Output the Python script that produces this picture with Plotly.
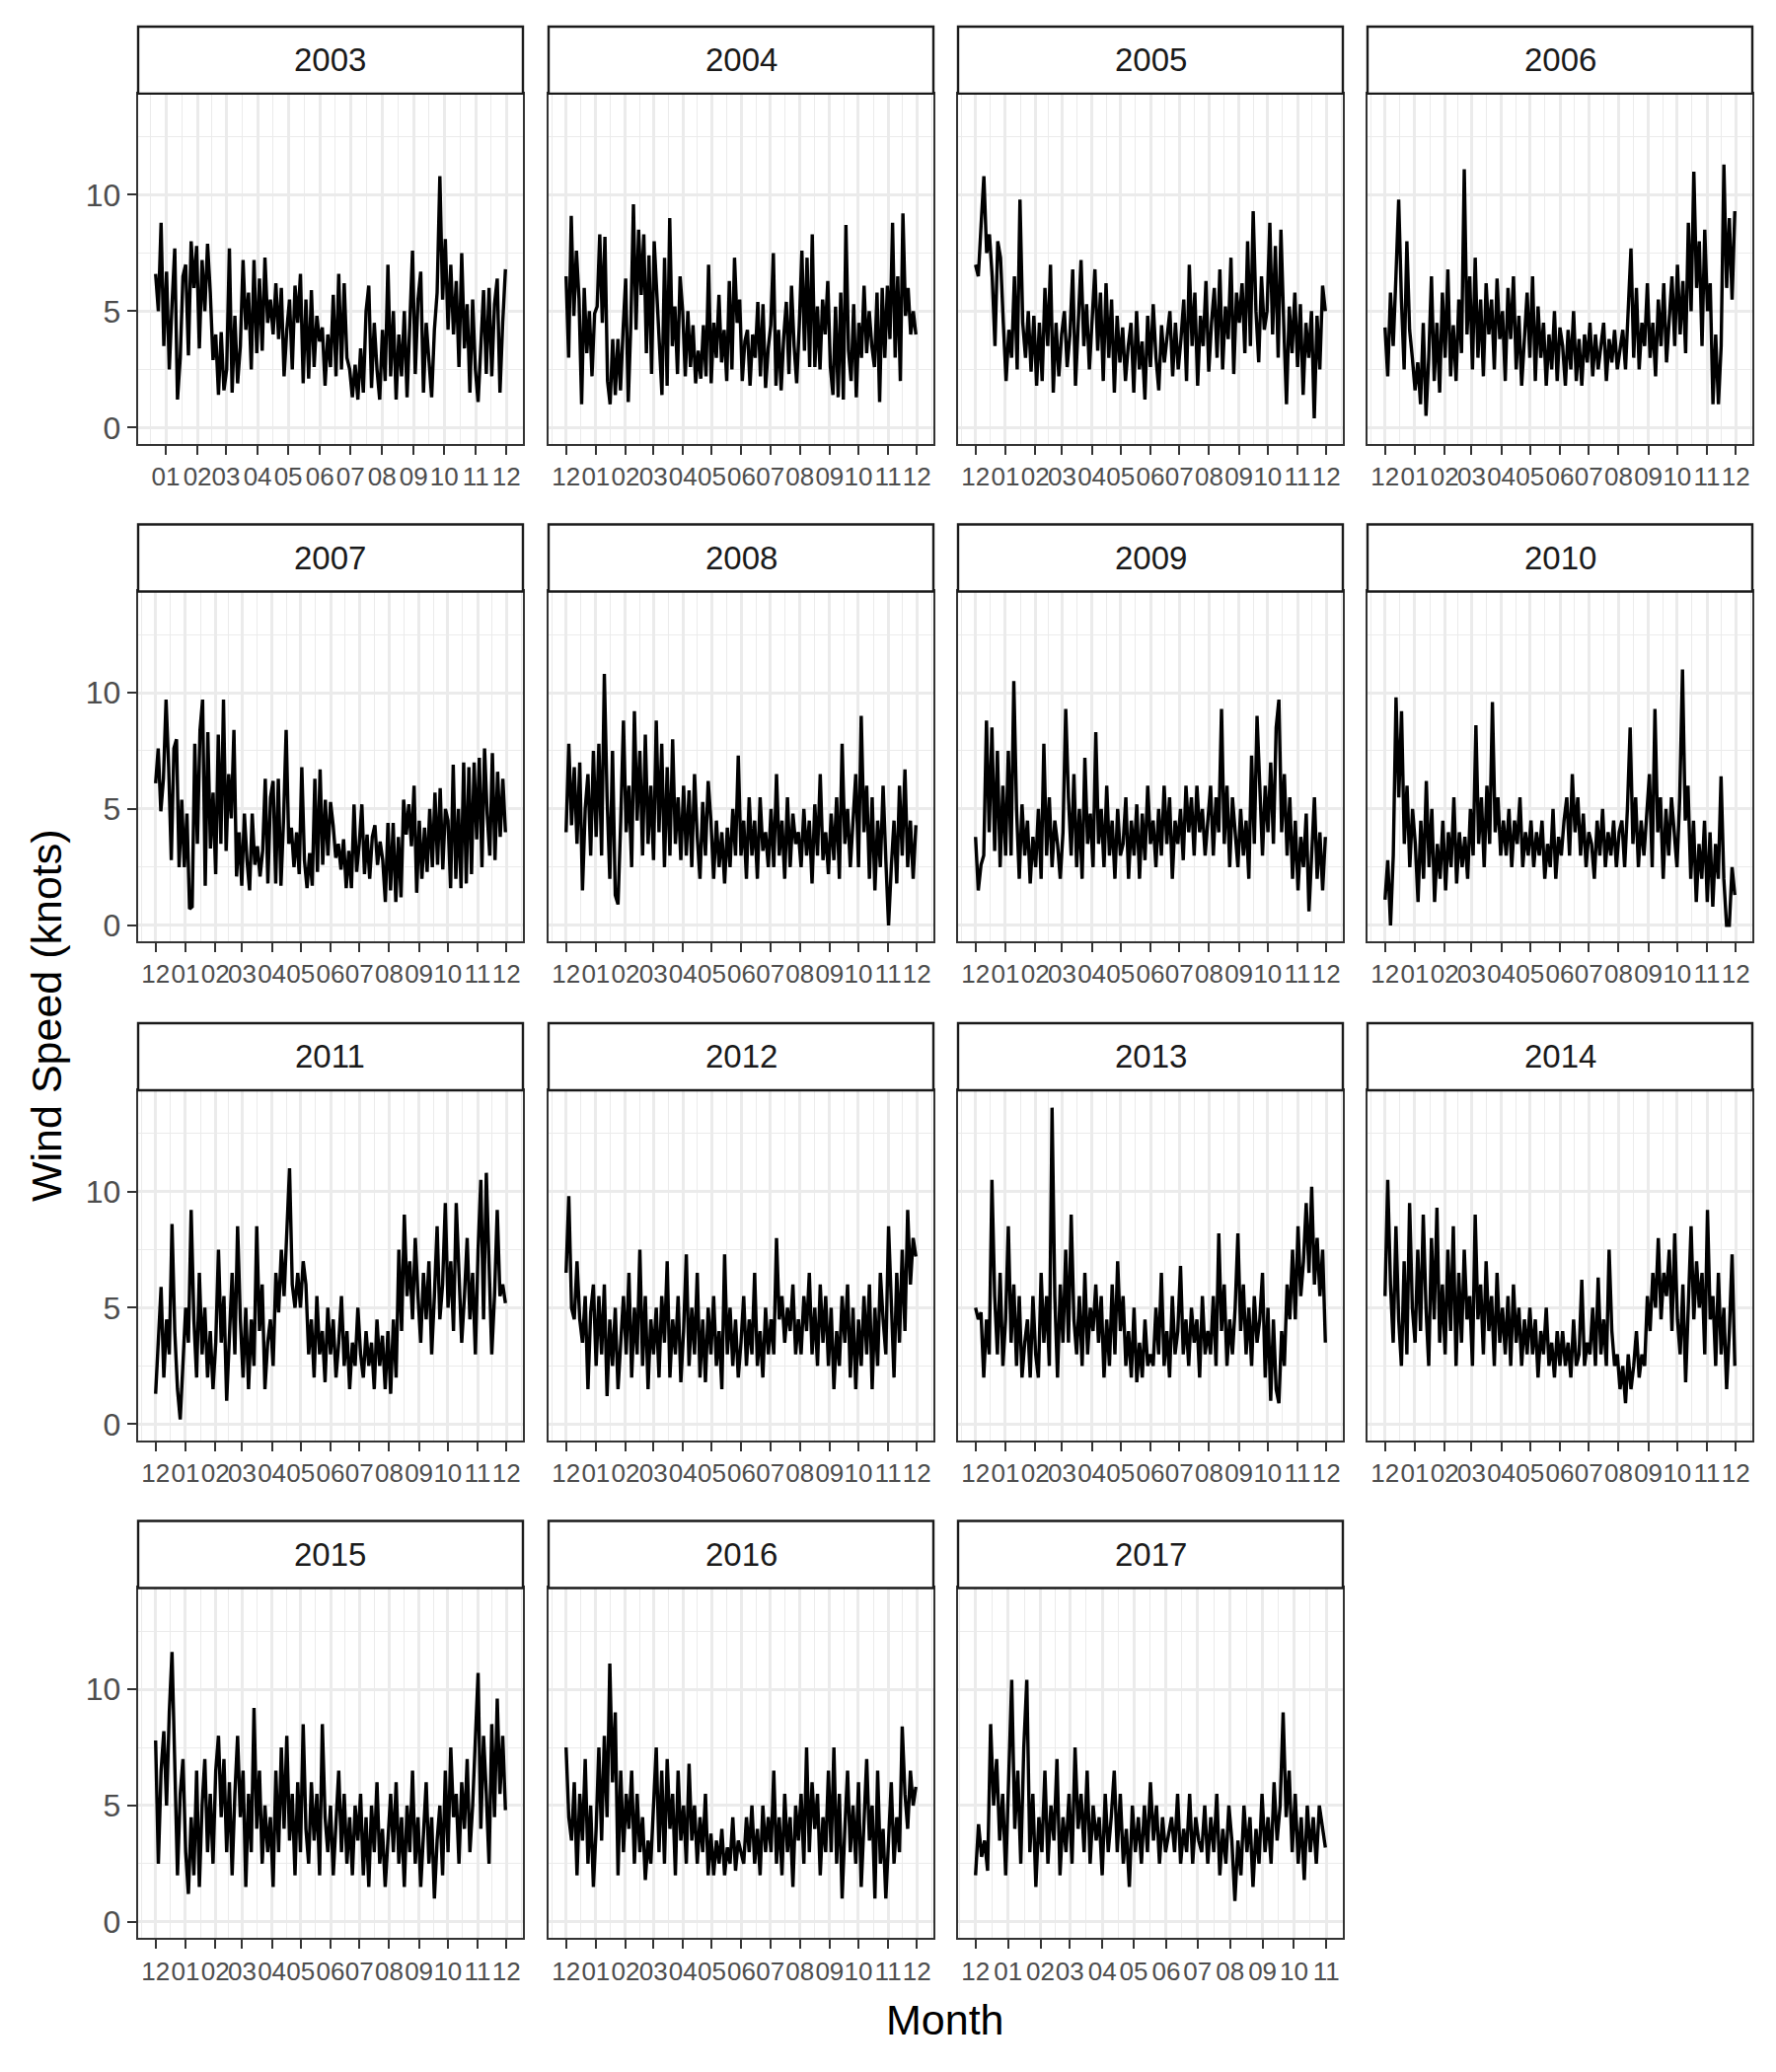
import pandas as pd
import plotly.graph_objects as go

# daily-ish wind speed (knots), Dec -> Nov per panel
years = [2003, 2004, 2005, 2006, 2007, 2008, 2009, 2010,
         2011, 2012, 2013, 2014, 2015, 2016, 2017]

first_day = {2003: "2002-12-22"}
last_day = {2017: "2017-10-31"}

ws_2003 = [6.6, 5.0, 8.8, 3.5,
           6.7, 2.5, 5.3, 7.7, 1.2, 3.0, 6.5, 7.0, 3.1, 8.0, 6.0,
           7.8, 3.4, 7.2, 5.0, 7.9, 5.8, 2.9, 4.0, 1.4, 4.1, 1.6,
           2.5, 7.7, 1.5, 4.8, 1.9, 3.5, 7.2, 4.2, 5.8, 2.5, 7.2,
           3.2, 6.4, 3.3, 7.3, 4.5, 5.5, 4.0, 6.2, 3.8, 6.0, 2.2,
           4.2, 5.5, 2.5, 6.1, 4.5, 6.6, 1.9, 5.5, 2.1, 5.9, 2.6,
           4.8, 3.7, 4.3, 1.8, 4.0, 2.6, 5.7, 2.2, 6.6, 2.5, 6.2, 3.0,
           2.5, 1.3, 2.7, 1.2, 3.4, 1.5, 5.0, 6.1, 1.7, 4.5, 2.5,
           1.2, 4.2, 2.0, 7.0, 2.2, 5.0, 1.2, 4.0, 2.2, 5.0, 1.3,
           4.5, 7.6, 2.3, 5.5, 6.7, 1.5, 4.5, 3.0, 1.3, 4.2, 5.8,
           10.8, 5.5, 8.1, 4.2, 7.0, 4.0, 6.3, 2.6, 7.5, 3.4, 5.3, 1.5,
           5.5, 2.5, 1.1, 3.8, 5.9, 2.3, 6.0, 2.2, 5.3, 6.4, 1.5, 4.5, 6.8]

ws_2004 = [6.5, 3.0, 9.1, 4.8, 7.6, 5.5, 1.0, 6.0, 3.2, 5.0, 2.2, 4.9,
           5.2, 8.3, 4.5, 8.2, 2.0, 1.0, 3.8, 1.4, 3.8, 1.6, 4.2,
           6.4, 1.1, 4.5, 9.6, 4.2, 8.5, 5.7, 8.3, 3.2, 7.4, 2.3,
           8.0, 5.7, 3.5, 1.4, 7.3, 1.8, 9.0, 3.5, 5.2, 2.3, 6.5,
           5.0, 2.2, 5.0, 2.6, 4.4, 1.9, 3.3, 2.1, 4.4, 2.2, 7.0,
           1.9, 4.5, 3.0, 5.7, 2.8, 4.2, 2.0, 6.3, 2.5, 7.3, 4.5,
           5.5, 2.0, 3.7, 4.2, 1.8, 4.0, 3.0, 5.4, 2.2, 5.3, 1.7,
           3.4, 4.4, 7.5, 1.8, 4.2, 1.6, 3.9, 5.4, 2.3, 6.1, 3.5,
           1.9, 4.4, 7.6, 3.3, 7.3, 2.6, 8.3, 2.6, 5.2, 2.5, 5.5,
           4.0, 6.3, 2.6, 1.4, 5.2, 1.3, 5.8, 1.2, 8.7, 3.3, 2.0,
           5.3, 1.3, 4.5, 3.0, 6.1, 3.2, 5.0, 3.5, 2.6, 5.8, 1.1,
           6.0, 3.0, 6.1, 3.8, 8.8, 3.0, 6.5, 2.0, 9.2, 4.8, 6.0, 4.0, 5.0, 4.0]

ws_2005 = [7.0, 6.5, 8.7, 10.8, 7.5, 8.3, 6.5, 3.5, 8.0, 7.3, 4.5, 2.0,
           4.2, 3.0, 6.5, 2.5, 9.8, 4.5, 3.0, 5.0, 2.4, 4.8, 1.8,
           4.5, 2.0, 6.0, 3.5, 7.0, 1.5, 4.5, 2.2, 4.0, 5.0,
           2.6, 4.0, 6.8, 1.8, 4.8, 7.2, 3.5, 5.3, 2.5, 4.5, 6.8,
           3.3, 5.8, 2.0, 6.2, 3.0, 5.5, 1.5, 4.8, 2.8, 4.3,
           2.0, 3.5, 4.5, 1.5, 5.0, 2.5, 3.7, 1.2, 4.8, 2.6, 5.3,
           3.0, 1.6, 4.4, 2.8, 4.0, 5.0, 2.2, 4.5, 2.5, 3.8,
           5.5, 2.0, 7.0, 3.5, 5.8, 1.8, 4.8, 3.5, 6.3, 2.4, 4.5,
           6.0, 3.0, 6.8, 2.5, 5.2, 3.8, 7.3, 2.3, 5.8, 4.5,
           6.2, 3.2, 8.0, 3.5, 9.3, 5.0, 2.8, 6.5, 4.2, 5.0,
           8.8, 4.0, 7.8, 3.0, 8.5, 4.5, 1.0, 5.2, 3.2, 5.8,
           2.6, 5.3, 1.4, 4.5, 3.0, 5.0, 0.4, 4.8, 2.5, 6.1, 5.0]

ws_2006 = [4.3, 2.2, 5.8, 3.5, 6.5, 9.8, 5.5, 2.5, 8.0, 4.2, 3.0, 1.6,
           2.8, 1.0, 4.5, 0.5, 3.0, 6.5, 2.0, 4.5, 1.5, 5.8, 3.0,
           6.8, 2.2, 4.4, 2.0, 5.5, 3.2, 11.1, 4.0, 6.5, 2.5,
           7.3, 3.0, 5.5, 2.2, 6.2, 4.0, 5.5, 2.5, 6.4, 3.8, 5.0,
           2.0, 6.0, 3.8, 6.5, 2.5, 4.8, 1.8, 4.0, 5.8, 3.0,
           6.5, 2.0, 5.2, 3.0, 4.5, 1.8, 4.0, 2.5, 5.0, 2.0, 4.3,
           3.5, 1.8, 4.2, 2.5, 5.0, 2.0, 3.8, 1.8, 4.0, 2.8,
           4.5, 2.2, 4.0, 2.5, 3.5, 4.5, 2.0, 3.8, 2.8, 4.2, 2.5,
           3.5, 4.2, 2.5, 5.5, 7.7, 3.0, 6.0, 2.5, 4.5, 3.5,
           6.2, 3.0, 4.5, 2.2, 5.5, 3.5, 6.2, 2.8, 4.5, 6.5,
           3.5, 7.0, 4.0, 6.3, 3.2, 8.8, 5.0, 11.0, 6.0, 8.0,
           3.5, 8.5, 5.0, 6.2, 1.0, 4.0, 1.0, 3.5, 11.3, 6.0, 9.0, 5.5, 9.3]

ws_2007 = [6.1, 7.6, 4.9, 6.3, 9.7, 6.8, 2.8, 7.6, 8.0, 2.5, 5.4, 2.5,
           4.8, 0.7, 0.8, 7.8, 3.5, 8.4, 9.7, 1.7, 8.3, 3.3, 5.7, 2.2,
           8.2, 3.5, 9.7, 3.2, 6.5, 4.6, 8.4, 2.1, 4.0, 1.7, 4.8,
           2.8, 1.5, 4.8, 2.6, 3.4, 2.1, 3.2, 6.3, 1.8, 5.5, 6.2,
           1.8, 6.3, 1.7, 4.5, 8.4, 3.5, 4.2, 2.5, 4.0, 2.2, 6.8,
           2.8, 1.6, 3.1, 1.7, 6.3, 2.3, 6.7, 2.6, 5.4, 3.0, 5.3,
           4.3, 2.9, 3.5, 2.4, 3.7, 1.6, 3.2, 1.6, 5.2, 2.3, 3.5,
           5.2, 2.2, 3.9, 2.0, 3.8, 4.3, 2.6, 3.6, 2.8, 1.0, 4.4,
           1.5, 4.4, 1.0, 3.8, 1.2, 5.4, 3.9, 5.2, 3.4, 6.0, 1.4,
           4.5, 2.0, 4.2, 2.3, 5.0, 2.5, 5.7, 2.6, 5.9, 2.4, 5.0,
           4.5, 1.6, 6.9, 2.0, 5.0, 1.6, 7.0, 1.8, 6.8, 2.2, 7.0,
           3.7, 7.2, 2.5, 7.6, 4.8, 3.0, 7.4, 2.8, 6.6, 3.8, 6.3, 4.0]

ws_2008 = [4.0, 7.8, 4.3, 6.8, 3.5, 7.0, 1.5, 5.0, 6.5, 3.0, 7.5, 3.8,
           7.8, 3.0, 10.8, 5.5, 2.0, 7.5, 1.3, 0.9, 4.5, 8.8, 4.0,
           6.0, 2.5, 9.2, 4.5, 7.5, 3.0, 8.2, 3.5, 6.0, 2.8,
           8.8, 4.0, 7.8, 2.5, 6.8, 3.0, 8.0, 3.5, 5.5, 2.8, 6.0,
           3.0, 5.8, 2.5, 6.5, 3.8, 2.0, 5.3, 3.0, 6.2, 4.5,
           2.0, 4.5, 2.5, 4.0, 1.8, 4.2, 2.5, 5.0, 3.0, 7.3, 3.0,
           4.5, 2.0, 5.5, 3.0, 4.5, 2.0, 5.5, 3.2, 4.0, 2.5,
           5.0, 2.5, 6.5, 3.0, 4.5, 2.0, 5.5, 2.5, 4.8, 3.5, 4.0,
           2.5, 5.0, 3.0, 4.5, 1.8, 5.2, 3.0, 6.5, 2.8, 4.0,
           2.2, 4.8, 2.8, 5.5, 2.0, 7.8, 3.5, 5.0, 2.5, 4.5,
           6.5, 2.5, 9.0, 4.0, 6.0, 2.0, 5.5, 1.5, 4.5, 2.5, 6.0,
           2.8, 0.0, 2.5, 4.5, 1.8, 6.0, 3.0, 6.7, 2.5, 4.5, 2.0, 4.3]

ws_2009 = [3.8, 1.5, 2.6, 3.0, 8.8, 4.0, 8.5, 3.2, 7.5, 2.5, 6.0, 3.0,
           7.5, 3.0, 10.5, 5.0, 2.0, 5.2, 3.0, 4.5, 1.8, 3.8, 2.5,
           5.0, 2.0, 7.8, 3.0, 5.5, 2.5, 4.5, 3.5, 2.0, 4.0,
           9.3, 5.5, 3.0, 6.5, 2.5, 5.0, 2.0, 7.2, 3.5, 4.8, 2.5,
           8.3, 3.5, 5.0, 2.5, 6.0, 3.0, 4.5, 2.0, 5.0, 3.0,
           3.5, 5.5, 2.0, 4.5, 3.0, 5.2, 2.0, 4.8, 2.8, 6.0, 3.5,
           4.5, 2.5, 5.0, 3.0, 6.0, 3.5, 5.5, 2.0, 4.5, 3.5,
           5.0, 2.8, 6.0, 4.0, 5.5, 3.0, 6.0, 4.0, 5.0, 3.0, 4.5,
           6.0, 3.0, 5.5, 4.0, 9.3, 3.5, 6.0, 2.5, 5.5, 4.0,
           2.5, 5.0, 3.0, 4.5, 2.0, 7.3, 3.5, 9.0, 5.5, 3.0,
           6.0, 4.0, 7.0, 3.5, 8.5, 9.7, 4.0, 6.5, 3.0, 5.5, 2.0,
           4.5, 1.5, 3.8, 2.5, 4.8, 0.6, 3.0, 5.5, 2.0, 4.0, 1.5, 3.8]

ws_2010 = [1.1, 2.8, 0.0, 3.0, 9.8, 5.5, 9.2, 3.5, 6.0, 2.5, 5.0, 3.5,
           1.0, 4.5, 2.0, 6.2, 2.5, 5.0, 1.0, 3.5, 2.0, 4.5, 1.5,
           4.0, 2.5, 5.5, 1.8, 4.0, 2.5, 3.8, 2.0, 5.0, 3.0,
           8.6, 3.5, 5.5, 2.5, 6.0, 3.5, 9.6, 4.0, 5.5, 3.0, 4.5,
           3.0, 5.0, 2.5, 4.5, 3.5, 5.5, 2.5, 4.0, 3.0, 4.5,
           2.5, 4.0, 3.0, 4.5, 2.0, 3.5, 2.5, 5.0, 2.0, 3.8, 3.0,
           4.5, 5.5, 3.0, 6.5, 4.0, 5.5, 3.0, 4.8, 2.5, 4.0,
           3.5, 2.0, 4.5, 3.0, 5.0, 2.5, 4.0, 3.0, 4.5, 2.5, 4.0,
           4.5, 2.5, 5.0, 8.5, 3.5, 5.5, 2.5, 4.5, 3.0, 5.0,
           6.5, 2.5, 9.3, 4.0, 5.5, 2.0, 5.0, 3.0, 5.5, 4.0,
           2.5, 5.5, 11.0, 4.5, 6.0, 2.0, 4.5, 1.0, 3.5, 2.0, 4.5,
           1.0, 4.0, 0.8, 3.5, 2.0, 6.4, 2.0, 0.0, 0.0, 2.5, 1.3]

ws_2011 = [1.3, 3.5, 5.9, 2.0, 4.5, 3.0, 8.6, 4.0, 1.5, 0.2, 2.5, 5.0,
           3.5, 9.2, 4.5, 2.0, 6.5, 3.0, 5.0, 2.0, 4.0, 1.5, 3.5,
           7.5, 3.5, 5.5, 1.0, 4.0, 6.5, 3.0, 8.5, 4.5, 2.0,
           5.0, 1.5, 4.5, 2.5, 8.5, 4.0, 6.0, 1.5, 3.5, 4.5, 2.5,
           6.5, 4.8, 7.5, 5.5, 8.3, 11.0, 6.0, 5.0, 6.5, 5.0,
           7.0, 6.0, 3.0, 4.5, 2.0, 5.5, 3.0, 4.0, 1.8, 5.0, 3.0,
           4.5, 2.0, 3.5, 5.5, 2.5, 4.0, 1.5, 3.5, 2.5, 5.0,
           3.0, 2.0, 4.0, 2.5, 3.5, 1.5, 4.5, 2.5, 3.8, 1.5, 4.0,
           1.3, 4.5, 2.0, 7.5, 4.0, 9.0, 5.5, 7.0, 4.5, 8.0,
           5.5, 3.5, 6.5, 4.5, 7.0, 3.0, 5.5, 8.5, 4.5, 6.0,
           9.5, 5.0, 7.0, 4.0, 9.5, 6.0, 3.5, 5.5, 8.0, 4.5, 6.5,
           3.0, 7.5, 10.5, 4.5, 10.8, 6.5, 3.0, 5.5, 9.2, 5.5, 6.0, 5.2]

ws_2012 = [6.5, 9.8, 5.0, 4.5, 7.0, 4.5, 3.5, 5.5, 1.5, 4.8, 6.0, 2.5,
           5.5, 3.0, 6.0, 1.2, 4.5, 2.5, 5.0, 1.5, 3.5, 5.5, 3.0,
           6.5, 2.0, 5.0, 3.0, 7.5, 2.5, 5.5, 1.5, 4.5, 3.0,
           5.0, 2.0, 5.5, 3.5, 7.0, 2.0, 4.5, 3.0, 5.5, 1.8, 4.0,
           7.3, 2.5, 5.0, 3.0, 6.5, 2.0, 4.5, 1.8, 5.0, 3.0,
           5.5, 2.5, 4.0, 1.5, 7.3, 3.0, 5.0, 2.5, 4.5, 2.0, 3.5,
           5.5, 2.5, 4.5, 3.0, 6.5, 2.5, 4.0, 2.0, 5.0, 3.0,
           4.5, 3.0, 8.0, 4.5, 5.5, 3.5, 5.0, 4.0, 6.0, 3.0, 4.5,
           3.0, 5.5, 4.0, 6.5, 3.0, 5.0, 2.5, 6.0, 3.5, 5.5,
           2.5, 5.0, 1.5, 4.0, 2.5, 5.5, 3.5, 6.0, 2.0, 5.0,
           1.5, 4.5, 2.5, 5.5, 3.0, 6.0, 1.5, 5.0, 2.5, 6.5, 4.5,
           3.0, 8.5, 5.0, 2.0, 6.5, 3.5, 7.5, 4.0, 9.2, 6.0, 8.0, 7.2]

ws_2013 = [5.0, 4.5, 4.8, 2.0, 4.5, 3.0, 10.5, 5.5, 3.0, 6.5, 2.5, 4.5,
           8.5, 3.5, 6.0, 2.5, 5.5, 2.0, 3.5, 4.5, 2.0, 5.5, 3.0,
           2.0, 6.5, 3.5, 5.5, 2.5, 13.6, 5.5, 2.0, 6.0, 3.5,
           7.5, 3.5, 9.0, 4.5, 3.0, 5.5, 2.5, 6.5, 3.0, 5.0, 4.0,
           6.0, 3.5, 5.5, 2.0, 4.5, 2.5, 6.0, 3.0, 7.0, 4.0,
           5.5, 2.5, 4.0, 2.0, 5.0, 1.8, 3.5, 2.0, 4.5, 2.5, 3.0,
           2.5, 5.0, 3.0, 6.5, 2.5, 4.0, 2.0, 5.5, 3.0, 4.0,
           6.8, 3.0, 4.5, 2.5, 5.0, 3.5, 4.5, 2.0, 5.5, 3.0, 4.0,
           3.0, 5.5, 2.5, 8.2, 4.0, 6.0, 2.5, 4.5, 3.0, 5.0,
           8.2, 4.0, 6.0, 3.0, 5.0, 2.5, 5.5, 3.5, 4.5, 6.5,
           2.0, 5.0, 1.0, 4.5, 1.5, 0.9, 4.0, 2.5, 6.0, 4.5, 7.5,
           4.5, 8.5, 5.5, 7.0, 9.5, 6.5, 10.2, 6.0, 8.0, 5.5, 7.5, 3.5]

ws_2014 = [5.5, 10.5, 6.0, 3.5, 8.5, 4.5, 2.5, 7.0, 3.0, 9.5, 5.0, 3.5,
           7.5, 4.0, 9.0, 5.0, 2.5, 8.0, 4.5, 9.3, 3.5, 6.0, 3.0,
           7.5, 4.0, 8.5, 2.5, 6.5, 3.5, 7.5, 4.5, 5.5, 2.5,
           9.0, 4.5, 6.0, 3.0, 7.0, 4.0, 5.5, 2.5, 6.5, 3.5, 5.0,
           3.0, 5.5, 2.5, 6.0, 3.5, 5.0, 2.5, 4.5, 3.0, 5.0,
           3.0, 4.5, 2.0, 4.0, 3.0, 5.0, 2.5, 3.5, 2.0, 4.0, 2.5,
           4.0, 2.5, 3.5, 2.0, 4.5, 2.5, 3.0, 6.2, 2.5, 3.5,
           3.0, 5.0, 2.5, 6.3, 3.0, 4.5, 2.5, 7.5, 4.0, 2.5, 3.0,
           1.5, 2.5, 0.9, 3.0, 1.5, 2.5, 4.0, 2.0, 3.0, 2.5,
           5.5, 4.0, 6.5, 5.0, 8.0, 4.5, 6.5, 5.5, 7.5, 4.0,
           8.2, 4.5, 3.0, 6.0, 1.8, 5.5, 8.5, 4.5, 7.0, 5.0, 6.5,
           3.0, 9.2, 4.5, 5.5, 2.5, 6.5, 3.0, 5.0, 1.5, 4.0, 7.3, 2.5]

ws_2015 = [7.8, 2.5, 6.5, 8.2, 5.0, 9.0, 11.6, 6.5, 2.0, 5.5, 7.0, 3.0,
           1.2, 4.5, 2.0, 6.5, 1.5, 5.0, 7.0, 3.0, 5.5, 2.5, 6.5,
           8.0, 4.5, 7.0, 3.0, 6.0, 2.0, 5.5, 8.0, 4.5, 6.5,
           1.5, 5.5, 3.0, 9.2, 4.0, 6.5, 2.5, 5.0, 3.0, 4.5, 1.5,
           6.5, 3.0, 7.5, 4.0, 8.0, 3.5, 5.5, 2.0, 6.0, 3.0,
           8.5, 4.0, 2.5, 6.0, 3.5, 5.5, 2.0, 8.5, 4.5, 3.0, 5.0,
           2.0, 4.5, 6.5, 3.0, 5.5, 2.5, 4.5, 2.0, 5.0, 3.5,
           5.5, 2.0, 4.5, 1.5, 5.0, 3.0, 6.0, 2.5, 4.0, 1.5, 3.5,
           5.5, 3.0, 6.0, 2.5, 4.5, 1.5, 5.0, 3.0, 6.5, 2.5,
           4.5, 1.5, 3.5, 6.0, 2.5, 4.5, 1.0, 3.5, 5.0, 2.0,
           6.5, 3.0, 7.5, 4.5, 5.5, 2.5, 6.0, 4.0, 7.0, 3.0, 5.0,
           8.0, 10.7, 4.0, 8.0, 5.5, 2.5, 8.5, 4.5, 9.6, 5.5, 8.0, 4.8]

ws_2016 = [7.5, 4.5, 3.5, 6.0, 2.0, 5.5, 3.5, 7.0, 2.5, 5.0, 1.5, 4.0,
           7.5, 3.5, 8.0, 4.5, 11.1, 6.0, 9.0, 2.0, 6.5, 3.0, 5.5,
           4.0, 6.5, 2.5, 5.5, 3.0, 4.5, 1.8, 3.5, 2.5, 5.0,
           7.5, 3.0, 6.5, 2.5, 7.0, 4.0, 5.5, 2.0, 6.5, 3.5, 5.0,
           2.5, 6.8, 3.5, 5.0, 2.5, 4.5, 3.0, 5.5, 2.0, 3.8,
           2.0, 3.5, 2.5, 4.0, 2.0, 3.2, 2.5, 4.5, 2.2, 3.5, 3.0,
           2.5, 4.5, 3.0, 5.0, 2.5, 4.0, 2.0, 5.0, 3.0, 4.5,
           3.0, 6.5, 2.5, 4.5, 2.0, 5.5, 3.0, 4.5, 1.5, 5.0, 3.5,
           5.5, 2.5, 7.5, 3.0, 6.0, 4.0, 5.5, 2.0, 4.5, 3.0,
           6.5, 3.0, 7.5, 2.5, 5.5, 1.0, 4.0, 6.5, 3.0, 5.0,
           2.5, 6.0, 1.5, 4.5, 7.0, 3.5, 5.0, 1.0, 6.5, 2.5, 4.0,
           1.0, 3.5, 6.0, 2.5, 4.5, 3.0, 8.4, 5.5, 4.0, 6.5, 5.0, 5.8]

ws_2017 = [2.0, 4.2, 2.8, 3.5, 2.2, 8.5, 5.0, 7.0, 3.5, 5.5, 2.0, 6.0,
           10.4, 4.0, 6.5, 2.5, 7.5, 10.4, 3.0, 5.5, 1.5, 4.5, 3.0,
           6.5, 2.5, 5.0, 3.5, 7.0, 2.0, 4.5, 3.0, 5.5, 2.5,
           7.5, 4.0, 5.5, 3.0, 6.5, 2.5, 5.0, 3.5, 4.5, 2.0, 5.5,
           3.0, 4.5, 6.5, 3.0, 5.5, 2.5, 4.0, 1.5, 5.0, 3.0,
           4.5, 2.5, 5.0, 3.0, 6.0, 3.5, 5.0, 2.5, 4.5, 3.0, 3.8,
           4.5, 3.0, 5.5, 2.5, 4.0, 3.0, 5.5, 2.5, 4.5, 3.5,
           3.0, 5.0, 2.5, 4.5, 3.0, 5.5, 2.0, 4.0, 2.5, 5.0, 3.5,
           0.9, 3.5, 2.0, 5.0, 3.0, 4.5, 1.5, 4.0, 2.5, 5.5,
           3.0, 4.5, 2.5, 6.0, 3.5, 5.0, 9.0, 4.5, 6.5, 3.0,
           5.5, 2.5, 4.5, 1.8, 5.0, 3.0, 4.5, 2.5, 5.0, 4.0, 3.2]

wind = {2003: ws_2003, 2004: ws_2004, 2005: ws_2005, 2006: ws_2006,
        2007: ws_2007, 2008: ws_2008, 2009: ws_2009, 2010: ws_2010,
        2011: ws_2011, 2012: ws_2012, 2013: ws_2013, 2014: ws_2014,
        2015: ws_2015, 2016: ws_2016, 2017: ws_2017}

FONT = "Liberation Sans, Arial, Helvetica, sans-serif"
W, H = 1800, 2100
OFF = 8  # page body margin
col_left = [140 - OFF, 556 - OFF, 971 - OFF, 1386 - OFF]
panel_w = 390
row_top = [95 - OFF, 600 - OFF, 1106 - OFF, 1611 - OFF]
panel_h = 355
strip_h = 68

fig = go.Figure()

for i, yr in enumerate(years):
    r, c = divmod(i, 4)
    n = i + 1
    xa = "x" if n == 1 else f"x{n}"
    ya = "y" if n == 1 else f"y{n}"
    vals = wind[yr]
    start = pd.Timestamp(first_day.get(yr, f"{yr - 1}-12-01"))
    end = pd.Timestamp(last_day.get(yr, f"{yr}-11-30"))
    dates = pd.date_range(start, end, periods=len(vals))

    fig.add_trace(go.Scatter(x=dates, y=vals, mode="lines",
                             line=dict(color="black", width=3.4),
                             xaxis=xa, yaxis=ya, showlegend=False,
                             hoverinfo="x+y"))

    pad = (end - start) * 0.05
    lo, hi = start - pad, end + pad
    months = pd.date_range(lo.to_period("M").to_timestamp() - pd.offsets.MonthBegin(1),
                           hi + pd.offsets.MonthBegin(2), freq="MS")
    mids = [months[k] + (months[k + 1] - months[k]) / 2 for k in range(len(months) - 1)]

    x0 = col_left[c] / W
    x1 = (col_left[c] + panel_w) / W
    y1 = 1 - row_top[r] / H
    y0 = 1 - (row_top[r] + panel_h) / H

    fig.layout[f"xaxis{n}" if n > 1 else "xaxis"] = dict(
        domain=[x0, x1], anchor=ya, type="date", range=[lo, hi],
        tickformat="%m", dtick="M1", tick0="2000-01-01", tickangle=0,
        ticks="outside", ticklen=9, tickwidth=2.4, tickcolor="#333333",
        tickfont=dict(family=FONT, size=26, color="#4D4D4D"),
        showgrid=True, gridcolor="#EBEBEB", gridwidth=2.8,
        minor=dict(tickmode="array", tickvals=mids, showgrid=True,
                   gridcolor="#EBEBEB", gridwidth=1.4, ticks=""),
        showline=True, mirror=True, linecolor="#333333", linewidth=2.4,
        zeroline=False, fixedrange=True,
    )
    fig.layout[f"yaxis{n}" if n > 1 else "yaxis"] = dict(
        domain=[y0, y1], anchor=xa, range=[-0.69, 14.35],
        tickvals=[0, 5, 10], showticklabels=(c == 0),
        ticks="outside" if c == 0 else "", ticklen=9, tickwidth=2.4,
        tickcolor="#333333",
        tickfont=dict(family=FONT, size=32, color="#4D4D4D"),
        showgrid=True, gridcolor="#EBEBEB", gridwidth=2.8,
        minor=dict(dtick=2.5, tick0=0, showgrid=True,
                   gridcolor="#EBEBEB", gridwidth=1.4, ticks=""),
        showline=True, mirror=True, linecolor="#333333", linewidth=2.4,
        zeroline=False, fixedrange=True,
    )

    # facet strip
    fig.add_shape(type="rect", xref="paper", yref="paper",
                  x0=x0, x1=x1, y0=y1, y1=1 - (row_top[r] - strip_h) / H,
                  fillcolor="white", line=dict(color="#1A1A1A", width=2.4),
                  layer="above")
    fig.add_annotation(text=str(yr), xref="paper", yref="paper",
                       x=(x0 + x1) / 2, y=1 - (row_top[r] - strip_h / 2) / H,
                       showarrow=False, xanchor="center", yanchor="middle",
                       font=dict(family=FONT, size=33, color="#1A1A1A"))

fig.add_annotation(text="Wind Speed (knots)", xref="paper", yref="paper",
                   x=(47 - OFF) / W, y=1 - (1030 - OFF) / H, textangle=-90,
                   showarrow=False, xanchor="center", yanchor="middle",
                   font=dict(family=FONT, size=43, color="black"))
fig.add_annotation(text="Month", xref="paper", yref="paper",
                   x=(958 - OFF) / W, y=1 - (2049 - OFF) / H, showarrow=False,
                   xanchor="center", yanchor="middle",
                   font=dict(family=FONT, size=43, color="black"))

fig.update_layout(width=W, height=H, margin=dict(l=0, r=0, t=0, b=0),
                  paper_bgcolor="white", plot_bgcolor="white",
                  showlegend=False)

fig.write_html("out.html")
